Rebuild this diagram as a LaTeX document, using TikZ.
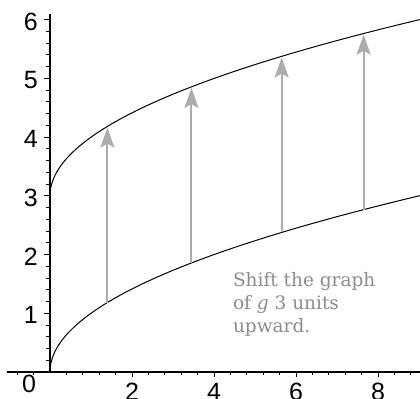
\documentclass[tikz,border=0pt]{standalone}
\usepackage{fontspec}
\setmainfont{DejaVu Serif}
\newfontfamily\ticksfont{Liberation Sans}
\usepackage{xcolor}
\usetikzlibrary{arrows.meta,positioning}
\definecolor{shiftgray}{RGB}{172,172,172}
\definecolor{notegray}{RGB}{140,140,140}

\begin{document}
\begin{tikzpicture}[x=41pt, y=58.7pt, >={Stealth[width=14pt,length=20pt,inset=4pt]},
    axis/.style={line width=1.3pt},
    ticklabel/.style={font=\ticksfont\fontsize{25}{25}\selectfont, inner sep=0pt},
    graph/.style={line width=1pt},
    shiftarrow/.style={->, shiftgray, line width=2pt}]
        \useasboundingbox (-1.2195,-0.46) rectangle (9.0244,6.337);
        % Axes
        \draw[axis] (-1.05,0) -- (9.05,0);
        \draw[axis] (0,-0.01) -- (0,6.1);
        % x ticks
        \foreach \x in {-0.8,-0.4,0.4,0.8,1.2,1.6,2.4,2.8,3.2,3.6,4.4,4.8,5.2,5.6,6.4,6.8,7.2,7.6,8.4,8.8}
            \draw[line width=1pt] (\x,0) -- ++(0,-3pt);
        \foreach \x in {2,4,6,8} {
            \draw[line width=1pt] (\x,0) -- ++(0,-5pt);
            \node[ticklabel, anchor=north, yshift=-11pt] (xlab\x) at (\x,0) {\x};
        }
        \node[ticklabel, anchor=north, yshift=-3pt] (xlab0) at (-0.51,0) {0};
        % y ticks
        \foreach \i in {1,...,30} {
            \pgfmathtruncatemacro{\m}{mod(\i,5)}
            \ifnum\m=0
                \draw[line width=1pt] (0,\i/5) -- ++(-6pt,0);
            \else
                \draw[line width=1pt] (0,\i/5) -- ++(-4pt,0);
            \fi
        }
        \foreach \y in {1,...,6}
            \node[ticklabel, anchor=east, xshift=-12pt, yshift=-2pt] (ylab\y) at (0,\y) {\y};
        % g and g+3
        \draw[graph] plot[domain=0:3.004, samples=120] ({\x*\x},{\x});
        \draw[graph] plot[domain=0:3.004, samples=120] ({\x*\x},{\x+3});
        % Shift arrows
        \foreach \a [count=\i] in {1.4,3.45,5.65,7.65} {
            \coordinate (g\i) at (\a,{sqrt(\a)});
            \coordinate (f\i) at (\a,{sqrt(\a)+3-0.02});
            \draw[shiftarrow] (g\i) -- (f\i);
        }
        % Note
        \node[anchor=north west, align=left, text=notegray, inner sep=0pt,
            font=\fontsize{18.5}{23}\selectfont] (note) at (4.46,1.70)
            {Shift the graph\\of \textit{g} 3 units\\upward.};
\end{tikzpicture}
\end{document}
